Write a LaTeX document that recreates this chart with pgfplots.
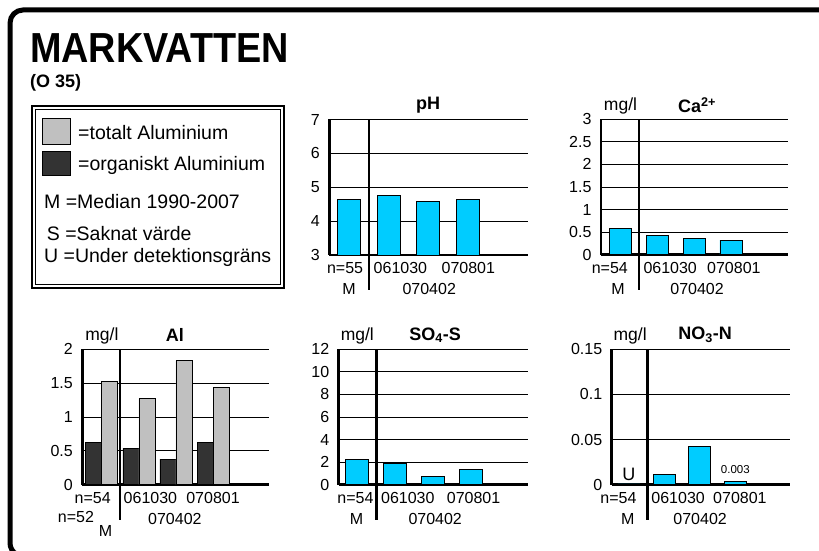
\documentclass[border=0pt]{standalone}
\usepackage{pgfplots}
\pgfplotsset{compat=1.18}
\usepackage{fontspec}
\setmainfont{Liberation Sans}
\definecolor{barcyan}{RGB}{0,204,255}
\definecolor{aldark}{RGB}{51,51,51}
\definecolor{allight}{RGB}{192,192,192}
\newcommand\ticks{\fontsize{16}{18}\selectfont}
\newcommand\unit{\fontsize{17.5}{19}\selectfont}
\newcommand\ttl{\fontsize{18}{20}\selectfont\bfseries}
\newcommand\leg{\fontsize{19.5}{22}\selectfont}
\pgfplotsset{
  chart/.style={
    anchor=south west, scale only axis, height=135.5pt,
    xtick=\empty, axis x line=bottom, axis y line=left,
    axis line style={line width=2.6pt,-},
    ymajorgrids, major grid style={line width=0.7pt,black},
    major tick length=0pt,
    scaled y ticks=false,
    /pgf/number format/assume math mode=true,
    yticklabel style={font=\ticks, xshift=-6pt, /pgf/number format/fixed, /pgf/number format/precision=2},
    clip mode=individual,
  },
  cbar/.style={ybar, bar width=23pt, fill=barcyan, draw=black, line width=0.9pt},
}
\begin{document}
\begin{tikzpicture}
\useasboundingbox (0pt,0pt) rectangle (819pt,551pt);
\draw[line width=5pt] (819pt,541pt) -- (23pt,541pt) arc[start angle=90, end angle=180, radius=13pt] -- (10pt,8pt) arc[start angle=180, end angle=240, radius=13pt];
\begin{scope}[x=1pt,y=1pt]
% title
\node[anchor=base west, inner sep=0pt, font=\fontsize{42}{46}\selectfont\bfseries] at (30,488) {\scalebox{0.9}[1]{MARKVATTEN}};
\node[anchor=base west, inner sep=0pt, font=\fontsize{18}{20}\selectfont\bfseries] at (30,463) {(O 35)};
% legend box
\draw[line width=1.6pt] (32,263) rectangle (284,445);
\draw[line width=0.8pt] (35.5,266.5) rectangle (280.5,441.5);
\draw[line width=0.9pt, fill=allight] (42.7,407) rectangle (70,432.7);
\draw[line width=0.9pt, fill=aldark] (42.7,376) rectangle (70,399.3);
\node[anchor=west, inner sep=0pt, font=\leg] at (78,418) {=totalt Aluminium};
\node[anchor=west, inner sep=0pt, font=\leg] at (78,386) {=organiskt Aluminium};
\node[anchor=west, inner sep=0pt, font=\leg] at (44,349.3) {M =Median 1990-2007};
\node[anchor=base west, inner sep=0pt, font=\leg] at (46.7,310) {S =Saknat värde};
\node[anchor=base west, inner sep=0pt, font=\leg] at (44,288) {U =Under detektionsgräns};
\end{scope}

% pH
\begin{axis}[chart, at={(329.3pt,296pt)}, width=198.7pt, xmin=-0.5, xmax=4.53, ymin=3, ymax=7, ytick={3,4,5,6,7}]
\addplot[cbar] coordinates {(0,4.64) (1,4.77) (2,4.59) (3,4.64)};
\draw[line width=2.6pt] (axis cs:0.5,7) -- ([yshift=-35pt]axis cs:0.5,3);
\node[font=\ttl] at ([yshift=14pt]axis cs:2,7) {pH};
\node[font=\ticks] at ([yshift=-13pt]axis cs:-0.1,3) {n=55};
\node[font=\ticks] at ([yshift=-34pt]axis cs:0,3) {M};
\node[font=\ticks] at ([yshift=-13pt]axis cs:1.3,3) {061030};
\node[font=\ticks] at ([yshift=-34pt]axis cs:2.03,3) {070402};
\node[font=\ticks] at ([yshift=-13pt]axis cs:3.02,3) {070801};
\end{axis}

% Ca
\begin{axis}[chart, at={(601pt,296.3pt)}, width=187pt, xmin=-0.53, xmax=4.55, ymin=0, ymax=3, ytick={0,0.5,1,1.5,2,2.5,3}]
\addplot[cbar, bar width=22pt] coordinates {(0,0.59) (1,0.42) (2,0.36) (3,0.32)};
\draw[line width=2.6pt] (axis cs:0.5,3) -- ([yshift=-35pt]axis cs:0.5,0);
\node[font=\unit] at ([yshift=13pt]axis cs:0,3) {mg/l};
\node[font=\ttl] at ([yshift=14pt]axis cs:2.08,3) {Ca\textsuperscript{2+}};
\node[font=\ticks] at ([yshift=-13pt]axis cs:-0.29,0) {n=54};
\node[font=\ticks] at ([yshift=-34pt]axis cs:-0.07,0) {M};
\node[font=\ticks] at ([yshift=-13pt]axis cs:1.35,0) {061030};
\node[font=\ticks] at ([yshift=-34pt]axis cs:2.08,0) {070402};
\node[font=\ticks] at ([yshift=-13pt]axis cs:3.08,0) {070801};
\end{axis}

% Al
\begin{axis}[chart, at={(82.3pt,66.3pt)}, width=187pt, xmin=-0.53, xmax=4.52, ymin=0, ymax=2, ytick={0,0.5,1,1.5,2}]
\addplot[ybar, bar width=16pt, bar shift=-8pt, fill=aldark, draw=black, line width=0.9pt] coordinates {(0,0.62) (1,0.535) (2,0.376) (3,0.62)};
\addplot[ybar, bar width=16pt, bar shift=8pt, fill=allight, draw=black, line width=0.9pt] coordinates {(0,1.53) (1,1.27) (2,1.83) (3,1.43)};
\draw[line width=2.6pt] (axis cs:0.49,2) -- ([yshift=-35pt]axis cs:0.49,0);
\node[font=\unit] at ([yshift=13pt]axis cs:0,2) {mg/l};
\node[font=\ttl] at ([yshift=14pt]axis cs:1.97,2) {Al};
\node[font=\ticks] at ([yshift=-13pt]axis cs:-0.25,0) {n=54};
\node[font=\ticks] at ([yshift=-32pt]axis cs:-0.7,0) {n=52};
\node[font=\ticks] at ([yshift=-46pt]axis cs:0.1,0) {M};
\node[font=\ticks] at ([yshift=-13pt]axis cs:1.31,0) {061030};
\node[font=\ticks] at ([yshift=-34pt]axis cs:1.97,0) {070402};
\node[font=\ticks] at ([yshift=-13pt]axis cs:3.0,0) {070801};
\end{axis}

% SO4
\begin{axis}[chart, at={(338.7pt,66.3pt)}, width=189.6pt, xmin=-0.49, xmax=4.5, ymin=0, ymax=12, ytick={0,2,4,6,8,10,12}]
\addplot[cbar] coordinates {(0,2.26) (1,1.84) (2,0.77) (3,1.31)};
\draw[line width=2.6pt] (axis cs:0.505,12) -- ([yshift=-35pt]axis cs:0.505,0);
\node[font=\unit] at ([yshift=13pt]axis cs:0,12) {mg/l};
\node[font=\ttl] at ([yshift=14pt]axis cs:2.05,12) {SO\textsubscript{4}-S};
\node[font=\ticks] at ([yshift=-13pt]axis cs:-0.05,0) {n=54};
\node[font=\ticks] at ([yshift=-34pt]axis cs:-0.02,0) {M};
\node[font=\ticks] at ([yshift=-13pt]axis cs:1.33,0) {061030};
\node[font=\ticks] at ([yshift=-34pt]axis cs:2.05,0) {070402};
\node[font=\ticks] at ([yshift=-13pt]axis cs:3.06,0) {070801};
\end{axis}

% NO3
\begin{axis}[chart, at={(611.7pt,66.3pt)}, width=178.3pt, xmin=-0.48, xmax=4.54, ymin=0, ymax=0.15, ytick={0,0.05,0.1,0.15}]
\addplot[cbar, bar width=22pt] coordinates {(0,0.0008) (1,0.0115) (2,0.042) (3,0.0033)};
\draw[line width=2.6pt] (axis cs:0.535,0.15) -- ([yshift=-35pt]axis cs:0.535,0);
\node[font=\unit] at ([yshift=13pt]axis cs:0.04,0.15) {mg/l};
\node[font=\ttl] at ([yshift=14pt]axis cs:2.15,0.15) {NO\textsubscript{3}-N};
\node[font=\fontsize{18}{20}\selectfont, inner sep=0pt, anchor=base] at ([yshift=4pt]axis cs:0,0) {U};
\node[font=\fontsize{11.5}{13}\selectfont] at ([yshift=12pt]axis cs:3,0.0033) {0.003};
\node[font=\ticks] at ([yshift=-13pt]axis cs:-0.29,0) {n=54};
\node[font=\ticks] at ([yshift=-34pt]axis cs:-0.03,0) {M};
\node[font=\ticks] at ([yshift=-13pt]axis cs:1.39,0) {061030};
\node[font=\ticks] at ([yshift=-34pt]axis cs:2.01,0) {070402};
\node[font=\ticks] at ([yshift=-13pt]axis cs:3.13,0) {070801};
\end{axis}
\end{tikzpicture}
\end{document}
